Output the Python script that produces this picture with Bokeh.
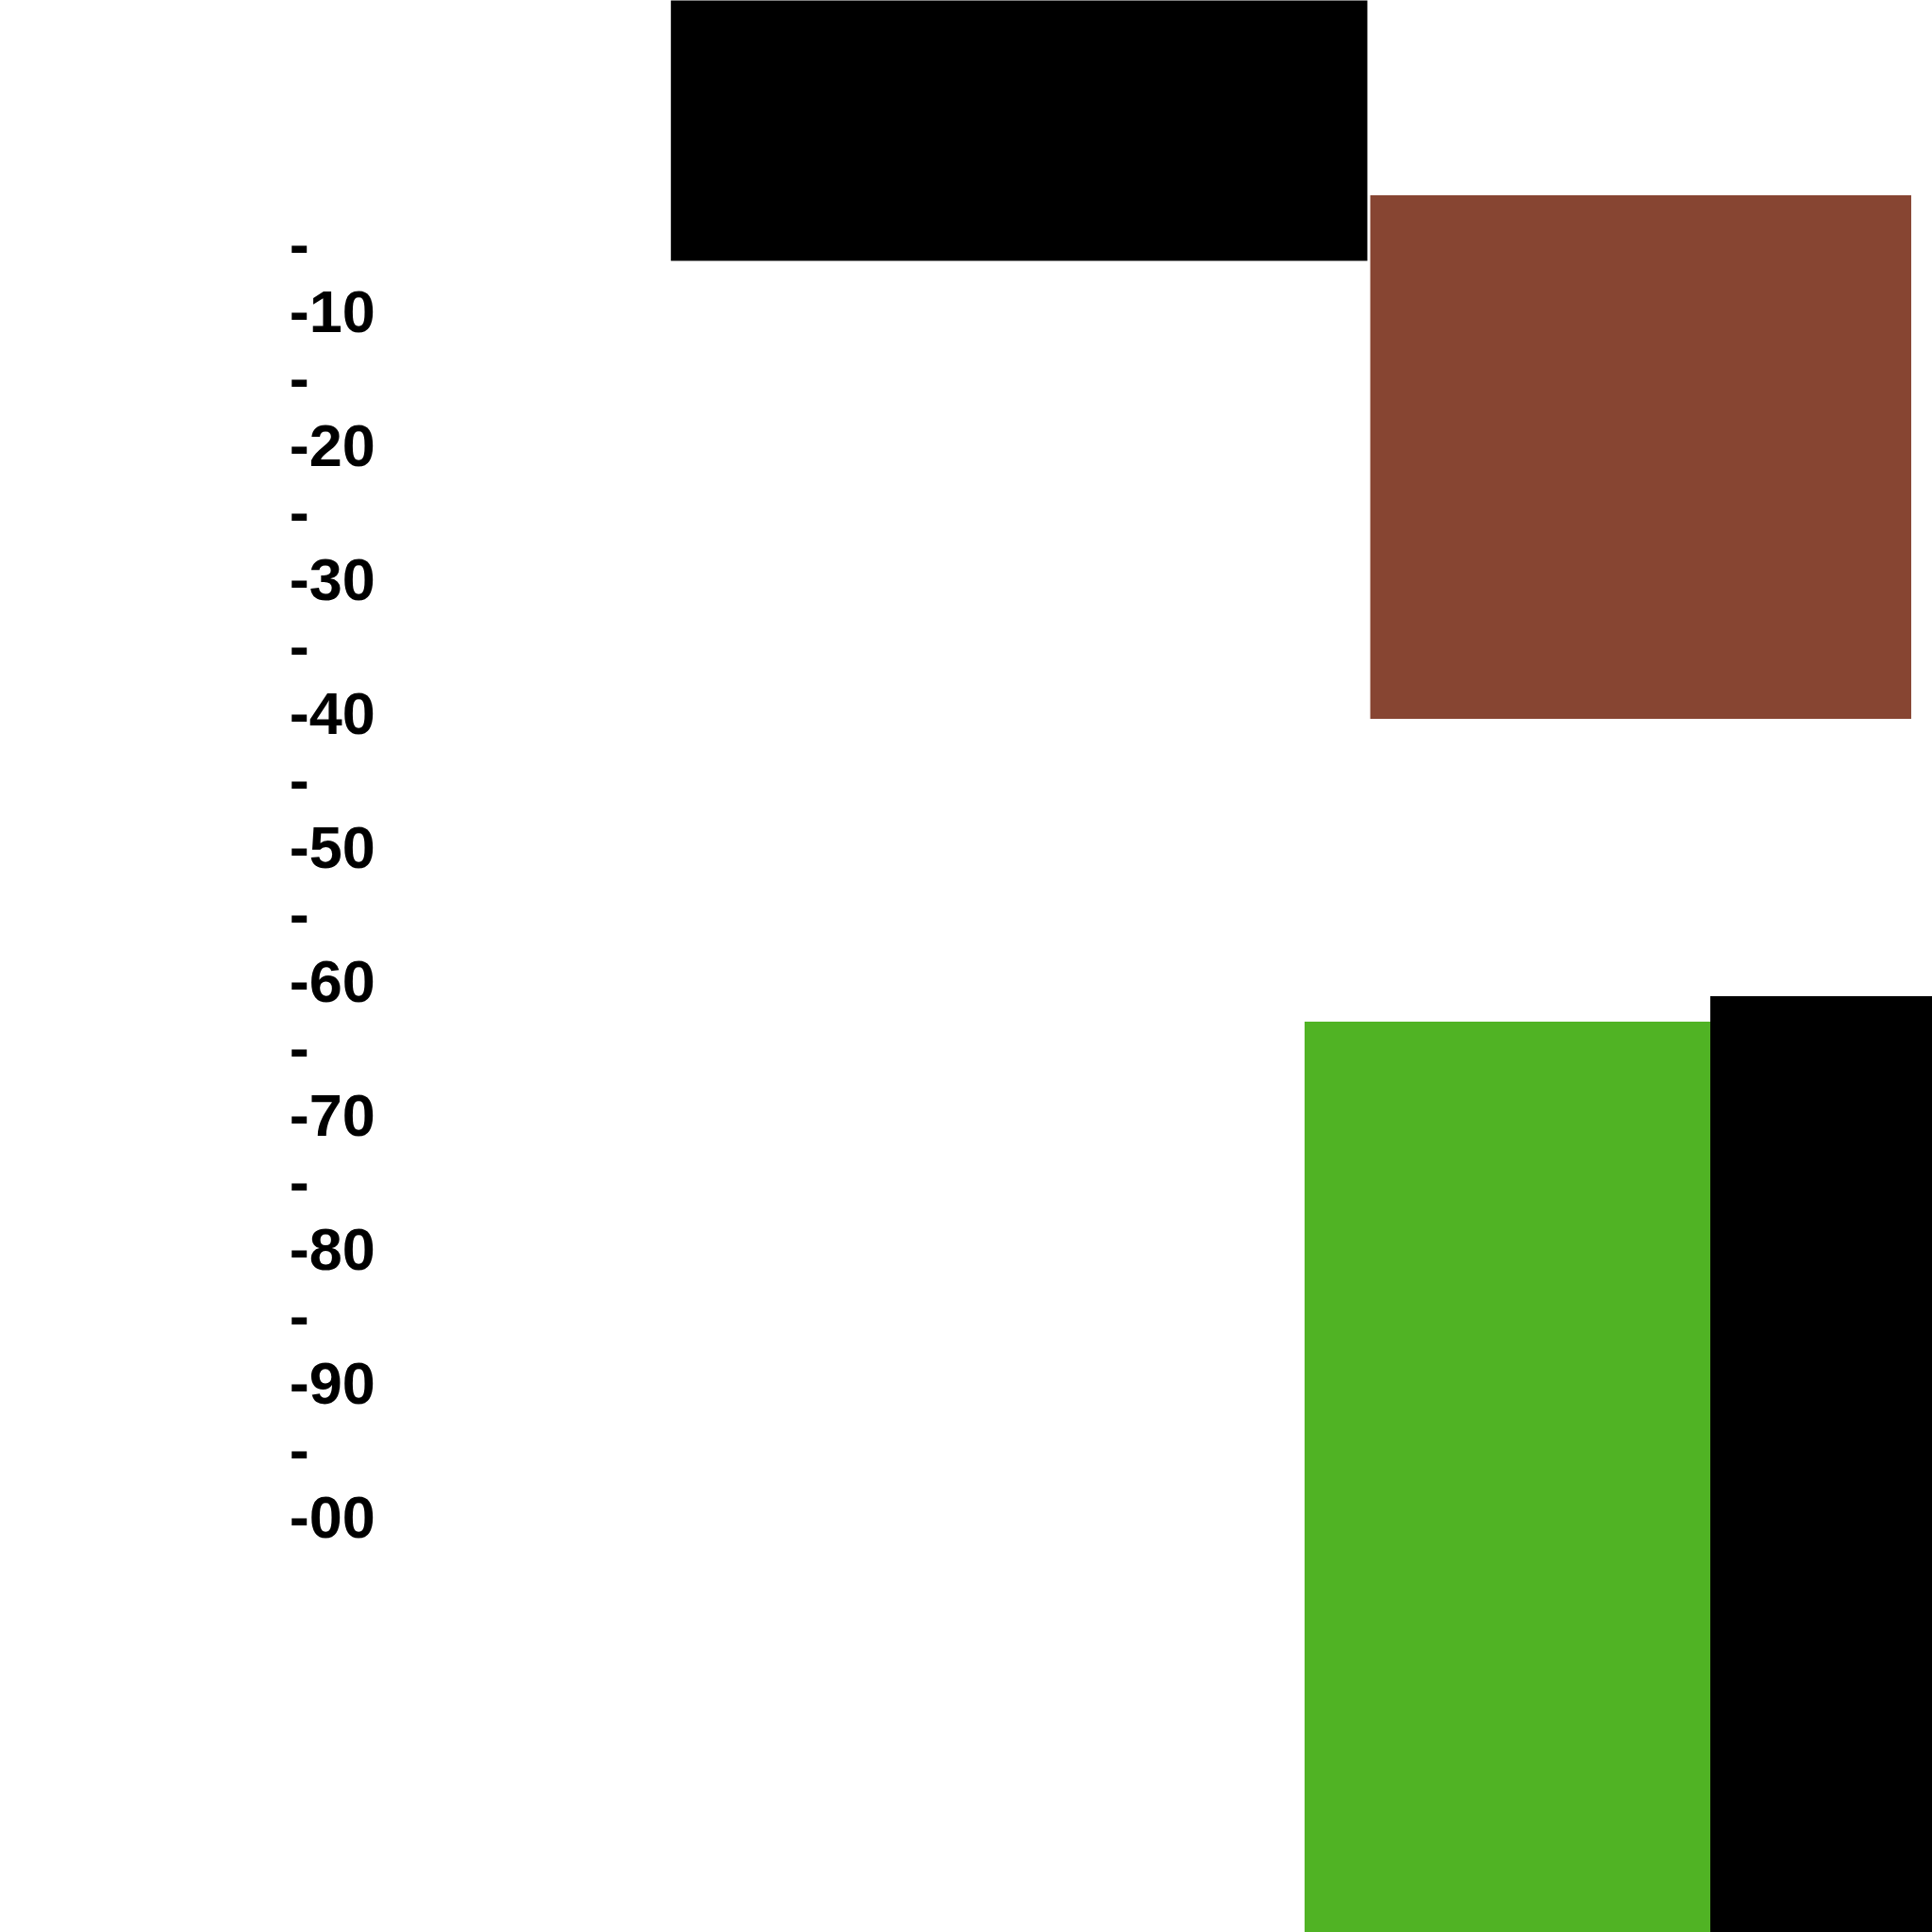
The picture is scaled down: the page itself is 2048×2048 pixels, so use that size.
from bokeh.plotting import figure
from bokeh.models import Range1d, ColumnDataSource
from bokeh.core.properties import value
from bokeh.embed import file_html
from bokeh.resources import INLINE

# bars (x extent, y extent in axis units)
bar_left = [34.7, 70.9, 67.5, 88.5]
bar_right = [70.75, 98.9, 88.5, 105.0]
bar_top = [20.0, -1.3, -63.0, -61.1]
bar_bottom = [-6.2, -40.4, -140.0, -140.0]
bar_color = ["#000000", "#874532", "#50B324", "#000000"]

# tick labels
tick_values = [-5, -10, -15, -20, -25, -30, -35, -40, -45, -50,
               -55, -60, -65, -70, -75, -80, -85, -90, -95, -100]
tick_labels = ["-", "-10", "-", "-20", "-", "-30", "-", "-40", "-", "-50",
               "-", "-60", "-", "-70", "-", "-80", "-", "-90", "-", "-00"]

p = figure(width=2048, height=2048, output_backend="svg", toolbar_location=None,
           x_range=Range1d(0, 100), y_range=Range1d(-131.0, 13.24),
           min_border=0, min_border_left=0, min_border_right=0,
           min_border_top=0, min_border_bottom=0)
p.axis.visible = False
p.grid.visible = False
p.outline_line_color = None
p.background_fill_color = "white"
p.border_fill_color = "white"

src = ColumnDataSource(dict(left=bar_left, right=bar_right, top=bar_top,
                            bottom=bar_bottom, color=bar_color))
p.quad(left="left", right="right", top="top", bottom="bottom",
       fill_color="color", line_color=None, source=src)

lab = ColumnDataSource(dict(x=[14.95] * len(tick_values), y=tick_values, t=tick_labels))
p.text(x="x", y="y", text="t", source=lab, text_align="left", text_baseline="middle",
       text_font=value("Liberation Sans"), text_font_style="bold",
       text_font_size="63px", text_color="black")

open("out.html", "w").write(file_html(p, INLINE))
